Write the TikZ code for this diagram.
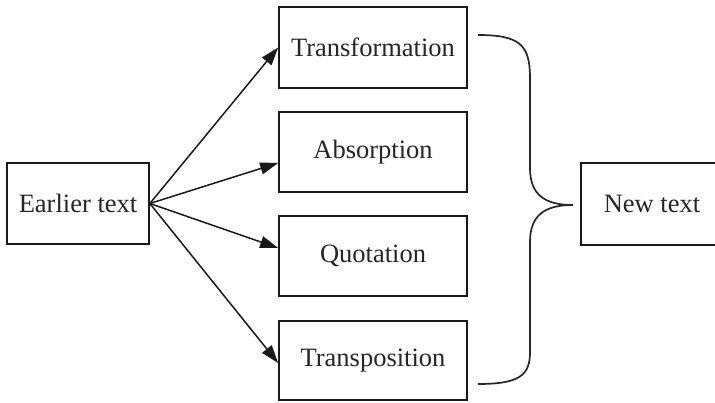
\documentclass[tikz,border=0pt]{standalone}
\usepackage{fontspec}
\setmainfont{Liberation Serif}
\usetikzlibrary{arrows.meta,calc}
\begin{document}
\begin{tikzpicture}[x=1pt,y=-1pt,
  box/.style={draw=black!90, line width=1.7pt, minimum height=81pt, inner sep=0pt,
    font=\fontsize{26.5}{30}\selectfont, text=black!85},
  arr/.style={line width=1.5pt, draw=black!90, -{Triangle[length=18pt,width=12pt]}},
  brace/.style={line width=1.7pt, draw=black!85}]
\useasboundingbox (0,0) rectangle (715,402);
\node[box, minimum width=142pt] (early) at (78,203.5) {Earlier text};
\node[box, minimum width=188pt] (b1) at (373,47.5) {Transformation};
\node[box, minimum width=188pt, minimum height=80pt] (b2) at (373,152) {Absorption};
\node[box, minimum width=188pt, minimum height=80pt] (b3) at (373,256) {Quotation};
\node[box, minimum width=188pt, minimum height=79pt] (b4) at (373,360.5) {Transposition};
\node[box, minimum width=142pt, minimum height=82pt] (new) at (652,204) {New text};
\draw[arr] (early.east) -- (b1.west);
\draw[arr] (early.east) -- ($(b2.west)+(0,11)$);
\draw[arr] (early.east) -- ($(b3.west)+(0,-8)$);
\draw[arr] (early.east) -- ($(b4.west)+(0,2.5)$);
\coordinate (bt) at (478,35);
\coordinate (bb) at (478,384);
\coordinate (tip) at (573,205);
\draw[brace] (bt) .. controls (520,35) and (530,45) .. (530,78) -- (530,168)
  .. controls (530,195) and (545,205) .. (tip)
  .. controls (545,205) and (530,215) .. (530,242) -- (530,352)
  .. controls (530,375) and (520,384) .. (bb);
\end{tikzpicture}
\end{document}
